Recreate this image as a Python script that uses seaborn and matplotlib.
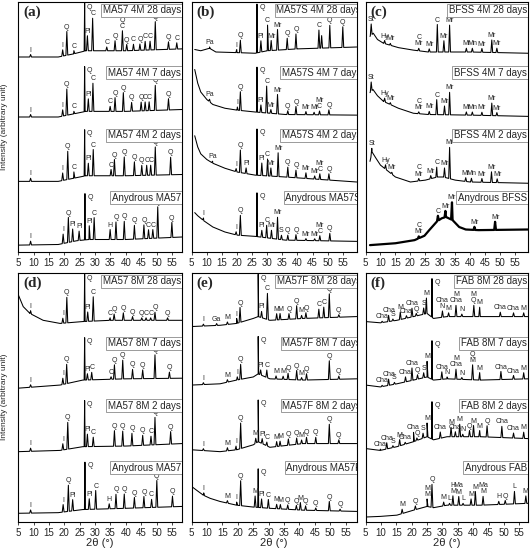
import numpy as np
import matplotlib
matplotlib.use("Agg")
import matplotlib.pyplot as plt
import seaborn as sns

sns.set_theme(style="ticks")
plt.rcParams['font.family'] = ['Liberation Sans', 'DejaVu Sans']

# ---------------- data ----------------
# background knots: (2theta, relative intensity) ; peaks: (2theta, height, phase label)
# every trace lives in a slot of height 1 (bottom = anhydrous, top = 28 days)

# (a) MA57 4M
a_names = ["Anydrous MA57", "MA57 4M 2 days", "MA57 4M 7 days", "MA57 4M 28 days"]
a0_bg = [(5, .11), (18, .12), (24, .18), (28, .2), (40, .2), (58.3, .24)]
a0_pk = [(9.0, .06, 'I'), (19.6, .15, 'I'), (21.3, .4, 'Q'), (22.7, .2, 'Pl'), (24.8, .15, 'Pl'),
         (26.7, .74, 'Q'), (28.1, .22, 'Pl'), (29.7, .35, 'C'), (34.9, .16, 'H'), (36.8, .28, 'Q'),
         (39.5, .29, 'Q'), (42.8, .22, 'Q'), (45.9, .22, 'Q'), (47.4, .14, 'C'), (48.8, .14, 'C'),
         (50.4, .5, 'Q'), (55.0, .24, 'Q')]
a2_bg = [(5, .13), (18, .13), (23, .18), (27, .22), (40, .22), (58.3, .24)]
a2_pk = [(9.0, .05, 'I'), (19.45, .12, 'I'), (21.1, .45, 'Q'), (23.1, .1, 'C'), (26.6, .74, 'Q'),
         (27.8, .2, 'Pl'), (29.4, .42, 'C'), (35.2, .1, 'C'), (36.3, .26, 'Q'), (39.5, .3, 'Q'),
         (42.8, .22, 'Q'), (45.2, .16, 'Q'), (46.8, .16, 'C'), (48.1, .16, 'C'), (49.6, .45, 'Q'),
         (54.6, .28, 'Q')]
a7_bg = [(5, .16), (18, .16), (23, .21), (27, .25), (40, .25), (58.3, .28)]
a7_pk = [(9.0, .04, 'I'), (19.45, .1, 'I'), (20.8, .42, 'Q'), (23.1, .04, 'C'), (26.6, .72, 'Q'),
         (27.8, .2, 'Pl'), (29.3, .45, 'C'), (34.9, .08, 'C'), (36.5, .22, 'Q'), (39.2, .3, 'Q'),
         (41.9, .14, 'Q'), (45.0, .14, 'Q'), (46.3, .14, 'C'), (47.6, .14, 'C'), (49.6, .4, 'Q'),
         (53.9, .18, 'Q')]
a28_bg = [(5, .12), (18, .12), (23, .17), (27, .22), (40, .22), (58.3, .25)]
a28_pk = [(9.0, .04, 'I'), (19.45, .1, 'I'), (20.8, .38, 'Q'), (23.1, .05, 'C'), (26.6, .78, 'Q'),
          (27.5, .24, 'Pl'), (29.2, .52, 'C'), (33.8, .06, 'C'), (36.5, .16, 'Q'), (38.9, .32, 'Q\nC'),
          (40.3, .1, 'Q'), (42.5, .1, 'C'), (44.6, .1, 'Q'), (46.3, .14, 'C'), (47.9, .14, 'C'),
          (49.6, .45, 'Q'), (53.9, .12, 'Q'), (56.6, .1, 'C')]

# (b) MA57S 4M
b_names = ["Anydrous MA57S", "MA57S 4M 2 days", "MA57S 4M 7 days", "MA57S 4M 28 days"]
b0_bg = [(6, .63), (7, .58), (9, .5), (12, .4), (16, .32), (20, .27), (26, .25), (36, .19), (59.6, .17)]
b0_pk = [(8.9, .04, 'I'), (19.7, .05, 'I'), (21.1, .32, 'Q'), (26.6, .7, 'Q'), (28.2, .11, 'Pl'),
         (29.8, .2, 'C'), (31.4, .13, 'Mr'), (33.4, .35, 'Mr'), (34.7, .07, 'S'), (36.8, .08, 'Q'),
         (39.5, .09, 'Q'), (42.8, .03, 'Mr'), (45.7, .03, 'Mr'), (47.4, .08, 'Mr\nC'), (50.7, .12, 'Q')]
b2_bg = [(6, .86), (7, .68), (8, .57), (10, .48), (12, .42), (16, .34), (20, .28), (26, .23), (36, .2), (59.6, .12)]
b2_pk = [(11.9, .03, 'Pa'), (19.7, .05, 'I'), (21.1, .36, 'Q'), (23.0, .09, 'Pl'), (26.6, .74, 'Q'),
         (28.2, .2, 'Pl'), (30.1, .27, 'C'), (31.2, .13, 'Mr'), (33.6, .38, 'Mr'), (36.8, .16, 'Q'),
         (39.5, .12, 'Q'), (42.8, .09, 'Mr'), (45.7, .05, 'Mr'), (47.4, .09, 'Mr\nC'), (50.4, .1, 'Q')]
b7_bg = [(6, .92), (7, .7), (8, .56), (10, .44), (12, .36), (16, .3), (20, .27), (26, .24), (36, .2), (59.6, .19)]
b7_pk = [(10.9, .04, 'Pa'), (20.1, .05, 'I'), (21.1, .3, 'Q'), (26.6, .72, 'Q'), (27.9, .12, 'Pl'),
         (29.8, .43, 'C'), (31.2, .06, 'Mr'), (33.4, .31, 'Mr'), (36.8, .06, 'Q'), (39.5, .13, 'Q'),
         (42.8, .05, 'Mr'), (45.5, .04, 'Mr'), (47.3, .06, 'Mr\nC'), (50.4, .08, 'Q')]
b28_bg = [(6, .24), (8, .22), (10.9, .26), (13, .2), (20, .19), (26, .18), (30, .22), (40, .25), (59.6, .28)]
b28_pk = [(10.9, .02, 'Pa'), (19.9, .05, 'I'), (21.1, .2, 'Q'), (26.6, .78, 'Q'), (27.9, .18, 'Pl'),
          (30.1, .41, 'C'), (31.3, .16, 'Mr'), (33.4, .33, 'Mr'), (36.6, .18, 'Q'), (39.5, .24, 'Q'),
          (47.1, .29, 'C'), (48.0, .2, ''), (50.7, .36, 'Q'), (55.0, .33, 'Q')]

# (c) BFSS 4M
c_names = ["Anydrous BFSS", "BFSS 4M 2 days", "BFSS 4M 7 days", "BFSS 4M 28 days"]
c0_bg = [(6.5, .11), (15, .14), (21.4, .19), (24.7, .26), (26.3, .35), (28.9, .49), (30.5, .54),
         (31.9, .56), (34.1, .51), (36.3, .4), (38.5, .36), (42.8, .35), (59.3, .36)]
c0_pk = [(22.8, .03, 'C\nMr'), (29.2, .08, 'C'), (31.7, .1, 'Mr'), (33.9, .28, 'Mr'), (41.4, .05, 'Mr'),
         (48.3, .13, 'Mr')]
c2_bg = [(6.5, .45), (7.2, .6), (8.5, .5), (10, .39), (15, .2), (20, .12), (25, .15), (29, .2), (31, .2),
         (35, .15), (40, .12), (59.3, .1)]
c2_pk = [(7.1, .08, 'St'), (11.7, .07, 'Hy'), (13.8, .03, 'Mr'), (22.8, .04, 'C\nMr'), (26.8, .05, 'Mr'),
         (28.8, .16, 'C'), (31.4, .15, 'Mr'), (33.1, .5, 'Mr'), (38.5, .06, 'Mr'), (40.4, .06, 'Mn'),
         (43.9, .06, 'Mr'), (47.1, .17, 'Mr'), (49.0, .06, 'Mr')]
c7_bg = [(6.5, .55), (7.5, .6), (9, .5), (11, .41), (16, .3), (21, .22), (26, .2), (40, .19), (59.3, .17)]
c7_pk = [(6.9, .15, 'St'), (11.4, .06, 'Hy'), (13.3, .03, 'Mr'), (22.8, .03, 'C\nMr'), (26.3, .05, 'Mr'),
         (28.8, .24, 'C'), (31.4, .14, 'Mr'), (33.1, .36, 'Mr'), (38.7, .05, 'Mr'), (40.7, .05, 'Mn'),
         (43.9, .05, 'Mr'), (47.2, .2, 'Mr'), (48.9, .05, 'Mr')]
c28_bg = [(6.5, .45), (7.6, .5), (9, .4), (11, .34), (16, .27), (21, .23), (26, .2), (40, .2), (59.3, .18)]
c28_pk = [(6.9, .18, 'St'), (11.4, .05, 'Hy'), (13.3, .03, 'Mr'), (22.8, .04, 'C\nMr'), (26.3, .05, 'Mr'),
          (29.0, .44, 'C'), (31.2, .18, 'Mr'), (33.1, .43, 'Mr'), (38.7, .06, 'Mr'), (40.7, .06, 'Mn'),
          (43.9, .06, 'Mr'), (47.2, .2, 'Mr'), (48.9, .07, 'Mr')]

# (d) MA57 8M
d_names = ["Anydrous MA57", "MA57 8M 2 days", "MA57 8M 7 days", "MA57 8M 28 days"]
d0_bg = [(5, .14), (18, .15), (26, .2), (40, .22), (58.3, .25)]
d0_pk = [(9.0, .05, 'I'), (19.6, .12, 'I'), (21.3, .42, 'Q'), (22.7, .18, 'Pl'), (26.7, .76, 'Q'),
         (28.1, .17, 'Pl'), (30.2, .3, 'C'), (34.6, .08, 'H'), (36.8, .23, 'Q'), (39.5, .23, 'Q'),
         (42.8, .17, 'Q'), (45.9, .18, 'Q'), (48.4, .13, 'C'), (50.1, .43, 'Q'), (55.2, .17, 'Q')]
d2_bg = [(5, .13), (18.6, .15), (26, .21), (40, .22), (58.3, .26)]
d2_pk = [(9.0, .05, 'I'), (19.5, .1, 'I'), (21.1, .43, 'Q'), (26.6, .74, 'Q'), (27.5, .2, 'Pl'),
         (29.4, .15, 'C'), (36.3, .25, 'Q'), (39.0, .24, 'Q'), (42.0, .2, 'Q'), (45.5, .16, 'Q'),
         (48.2, .14, 'C'), (49.5, .44, 'Q'), (54.6, .2, 'Q')]
d7_bg = [(5, .15), (18.6, .2), (26, .28), (40, .3), (58.3, .31)]
d7_pk = [(9.0, .04, 'I'), (19.5, .1, 'I'), (20.75, .31, 'Q'), (26.6, .68, 'Q'), (27.5, .1, 'Pl'),
         (28.9, .12, 'C'), (35.2, .04, 'C'), (36.3, .23, 'Q'), (39.0, .3, 'Q'), (42.2, .15, 'Q'),
         (45.5, .14, 'Q'), (49.5, .38, 'Q'), (54.2, .1, 'Q')]
d28_bg = [(5, .65), (6.6, .46), (8.8, .35), (13.1, .24), (18.6, .19), (26, .22), (35, .24), (58.3, .24)]
d28_pk = [(9.0, .05, 'I'), (19.5, .08, 'I'), (20.8, .41, 'Q'), (26.6, .76, 'Q'), (27.6, .15, 'Pl'),
          (29.4, .39, 'C'), (34.9, .04, 'C'), (36.2, .1, 'Q'), (39.2, .12, 'Q'), (42.2, .06, 'Q'),
          (45.2, .04, 'Q'), (46.6, .04, 'C'), (48.1, .04, 'C'), (49.5, .13, 'Q'), (53.6, .04, 'Q')]

# (e) MA57F 8M
e_names = ["Anydrous MA57F", "MA57F 8M 2 days", "MA57F 8M 7 days", "MA57F 8M 28 days"]
e0_bg = [(5, .57), (6.6, .51), (8.8, .43), (11, .38), (14.2, .33), (19.6, .27), (25, .24), (30.4, .22),
         (41.2, .19), (58.6, .17)]
e0_pk = [(8.9, .04, 'I'), (16.6, .04, 'M'), (19.6, .05, 'I'), (20.9, .4, 'Q'), (25.6, .18, 'M'),
         (26.6, .62, 'Q'), (27.7, .14, 'Pl'), (29.9, .14, 'C'), (32.6, .07, 'M'), (33.8, .07, 'M'),
         (36.2, .07, 'Q'), (39.0, .07, 'Q'), (40.3, .12, 'M'), (42.0, .07, 'Q'), (45.3, .04, 'Q'),
         (49.7, .15, 'Q'), (53.2, .03, 'Q')]
e2_bg = [(5, .16), (14.2, .13), (19.6, .16), (25, .24), (26.6, .29), (30.4, .2), (41.2, .26), (58.6, .26)]
e2_pk = [(8.8, .03, 'I'), (16.6, .05, 'M'), (19.4, .06, 'I'), (20.9, .41, 'Q'), (25.8, .08, 'M'),
         (26.6, .67, 'Q'), (27.9, .08, 'Pl'), (29.4, .06, 'C'), (32.6, .08, 'M'), (33.7, .08, 'M'),
         (36.4, .1, 'Q'), (39.1, .1, 'Q'), (40.7, .06, 'M'), (42.3, .1, 'Q'), (45.3, .1, 'Q'),
         (49.7, .31, 'Q'), (52.8, .06, 'Q')]
e7_bg = [(5, .2), (14.2, .22), (19.6, .28), (25, .33), (26.6, .38), (30.4, .3), (41.2, .28), (58.6, .3)]
e7_pk = [(8.8, .03, 'I'), (16.6, .04, 'M'), (19.8, .05, 'I'), (20.9, .24, 'Q'), (26.6, .6, 'Q'),
         (27.4, .08, 'Pl'), (29.4, .12, 'C'), (32.4, .05, 'M'), (34.7, .05, 'M'), (36.3, .1, 'Q'),
         (39.1, .15, 'Q'), (40.7, .04, 'M'), (42.3, .1, 'Q'), (49.7, .3, 'Q'), (52.8, .05, 'Q')]
e28_bg = [(5, .14), (14.2, .16), (19.6, .19), (25, .27), (26.6, .3), (30.4, .24), (41.2, .27), (58.6, .3)]
e28_pk = [(8.8, .03, 'I'), (13.1, .03, 'Ga'), (16.6, .04, 'M'), (19.6, .08, 'I'), (20.7, .24, 'Q'),
          (26.6, .68, 'Q'), (27.7, .1, 'Pl'), (29.6, .42, 'C'), (32.6, .1, 'M'), (33.7, .1, 'M'),
          (36.6, .09, 'Q'), (39.1, .21, 'Q'), (40.7, .05, 'M'), (42.1, .09, 'Q'), (46.3, .14, 'C'),
          (47.9, .17, 'C'), (49.7, .38, 'Q'), (52.8, .04, 'Q')]

# (f) FAB 8M
f_names = ["Anydrous FAB", "FAB 8M 2 days", "FAB 8M 7 days", "FAB 8M 28 days"]
f0_bg = [(5, .08), (9.8, .09), (15.2, .11), (20.6, .19), (25, .25), (27.1, .23), (31.5, .27), (42.3, .27), (57.8, .3)]
f0_pk = [(16.9, .07, 'M'), (21.2, .06, 'Q'), (25.0, .12, 'M\nM'), (26.6, .37, 'Q'), (30.4, .06, 'M'),
         (32.3, .03, 'L'), (33.4, .15, 'H\nM'), (35.3, .14, 'Ma\nM'), (36.7, .03, 'L'), (39.3, .1, 'M'),
         (40.7, .22, 'M'), (43.2, .14, 'Ma\nM'), (48.3, .05, 'H'), (50.4, .06, 'Q'), (53.4, .2, 'L'),
         (57.1, .12, 'M')]
f2_bg = [(5, .18), (9.8, .15), (15.2, .21), (20.6, .29), (25, .37), (27.1, .32), (31.5, .37), (42.3, .37), (57.8, .34)]
f2_pk = [(9.8, .02, 'Cha'), (11.9, .1, 'Cha'), (13.9, .03, 'S'), (16.1, .1, 'M'), (17.9, .03, 'Cha'),
         (20.6, .15, 'Cha'), (21.7, .04, 'Q'), (23.7, .08, 'S'), (25.0, .22, 'M'), (26.6, .6, 'Q'),
         (29.3, .1, 'Cha'), (32.8, .15, 'M'), (34.2, .08, 'Cha'), (35.6, .2, 'M'), (36.6, .04, 'N'),
         (38.8, .1, 'Q'), (40.1, .18, 'M'), (42.1, .1, 'M'), (44.5, .18, 'Q'), (49.3, .18, 'Cha'),
         (53.1, .08, 'Cha'), (56.4, .1, 'M')]
f7_bg = [(5, .2), (9.8, .17), (15.2, .22), (20.6, .28), (25, .33), (27.1, .28), (31.5, .3), (42.3, .28), (57.8, .3)]
f7_pk = [(10.4, .02, 'Cha'), (12.5, .1, 'Cha'), (14.4, .03, 'S'), (18.0, .08, 'Cha'), (20.1, .2, 'Cha'),
         (21.9, .07, 'Q'), (23.9, .08, 'S'), (25.0, .25, 'M'), (26.6, .62, 'Q'), (29.8, .12, 'Cha'),
         (31.5, .03, 'N'), (34.4, .16, 'M\nCha'), (36.3, .03, 'N'), (39.8, .24, 'Q\nM'), (42.1, .12, 'M'),
         (49.0, .13, 'Cha'), (53.1, .06, 'Cha'), (56.4, .1, 'M')]
f28_bg = [(5, .22), (9.8, .2), (15.2, .24), (20.6, .3), (25, .35), (27.1, .27), (31.5, .3), (42.3, .3), (57.8, .3)]
f28_pk = [(10.4, .02, 'Cha'), (12.5, .1, 'Cha'), (13.9, .03, 'S'), (16.3, .12, 'M'), (18.3, .04, 'Cha'),
          (20.1, .14, 'Cha'), (21.5, .04, 'Q'), (23.9, .1, 'S'), (24.8, .25, 'M'), (26.6, .62, 'Q'),
          (30.0, .1, 'Cha\nN'), (32.0, .06, 'M'), (34.4, .18, 'M\nCha'), (36.3, .04, 'N'),
          (40.2, .18, 'M\nQ'), (42.1, .15, 'M'), (48.8, .07, 'Cha'), (53.1, .06, 'Cha'), (56.4, .06, 'M')]

# ---------------- layout ----------------
W, H = 531, 550
ROW_Y = [(2, 252), (273, 522)]
COL_X = [(18.3, 182), (191.7, 356.7), (365.5, 528)]

panels = [
    ('(a)', 0, 0, (5, 58.3), a_names, [(a0_bg, a0_pk), (a2_bg, a2_pk), (a7_bg, a7_pk), (a28_bg, a28_pk)], 0),
    ('(b)', 0, 1, (6, 59.6), b_names, [(b0_bg, b0_pk), (b2_bg, b2_pk), (b7_bg, b7_pk), (b28_bg, b28_pk)], 1.8),
    ('(c)', 0, 2, (6.5, 59.3), c_names, [(c0_bg, c0_pk), (c2_bg, c2_pk), (c7_bg, c7_pk), (c28_bg, c28_pk)], 0),
    ('(d)', 1, 0, (5, 58.3), d_names, [(d0_bg, d0_pk), (d2_bg, d2_pk), (d7_bg, d7_pk), (d28_bg, d28_pk)], 0),
    ('(e)', 1, 1, (5, 58.6), e_names, [(e0_bg, e0_pk), (e2_bg, e2_pk), (e7_bg, e7_pk), (e28_bg, e28_pk)], 1.8),
    ('(f)', 1, 2, (5, 57.8), f_names, [(f0_bg, f0_pk), (f2_bg, f2_pk), (f7_bg, f7_pk), (f28_bg, f28_pk)], 0),
]


def build_trace(bg, pk):
    bx = [p[0] for p in bg]
    by = [p[1] for p in bg]
    pts = list(bg)
    for pos, h, _ in pk:
        w = 0.16 if h > 0.55 else 0.3
        pts.append((pos - w, np.interp(pos - w, bx, by)))
        pts.append((pos, np.interp(pos, bx, by) + h))
        pts.append((pos + w, np.interp(pos + w, bx, by)))
    pts.sort()
    return np.array(pts), bx, by


fig = plt.figure(figsize=(W / 100, H / 100), dpi=100)

for letter, row, col, xlim, names, traces, overflow in panels:
    y0, y1 = ROW_Y[row]
    x0, x1 = COL_X[col]
    ax = fig.add_axes([x0 / W, 1 - y1 / H, (x1 - x0) / W, (y1 - y0) / H])

    for k, (bg, pk) in enumerate(traces):
        pts, bx, by = build_trace(bg, pk)
        lw = 1.6 if (letter == '(c)' and k == 0) else 0.75
        sns.lineplot(x=pts[:, 0], y=pts[:, 1] + k, ax=ax, color='black', lw=lw,
                     estimator=None, sort=False)
        for pos, h, lab in pk:
            if not lab:
                continue
            top = np.interp(pos, bx, by) + h
            if h > 0.55:
                ax.text(pos + 0.8, k + min(top, 0.97), lab, ha='left', va='top', fontsize=5)
            else:
                ax.text(pos, k + top + 0.015, lab, ha='center', va='bottom', fontsize=5,
                        linespacing=0.85)
        ax.text(xlim[1] - 0.4 + overflow, k + 0.87, names[k], ha='right', va='center', fontsize=7,
                zorder=5, clip_on=True,
                bbox=dict(boxstyle='square,pad=0.15', fc='white', ec='#8a8a8a', lw=0.6))

    ax.set_xlim(*xlim)
    ax.set_ylim(0, 4)
    ax.set_xticks(np.arange(5, 60, 5))
    ax.set_yticks([])
    ax.set_xlabel('')
    ax.set_ylabel('')
    ax.tick_params(axis='x', labelsize=7, length=2.5, width=0.6, pad=1.5, direction='out')
    for sp in ax.spines.values():
        sp.set_linewidth(0.8)
        sp.set_color('black')
    ax.text(0.03, 0.985, letter, transform=ax.transAxes, ha='left', va='top', fontsize=11,
            fontweight='bold', family='Liberation Serif')
    if row == 1:
        fig.text((x0 + x1) / 2 / W, 1 - 543 / H, '2\u03b8 (\u00b0)', ha='center', va='center',
                 fontsize=8)

for yc in (1 - 127 / H, 1 - 397 / H):
    fig.text(5 / W, yc, 'Intensity (arbitrary unit)', rotation=90, ha='center', va='center', fontsize=6)

fig.savefig('out.png', dpi=100)
